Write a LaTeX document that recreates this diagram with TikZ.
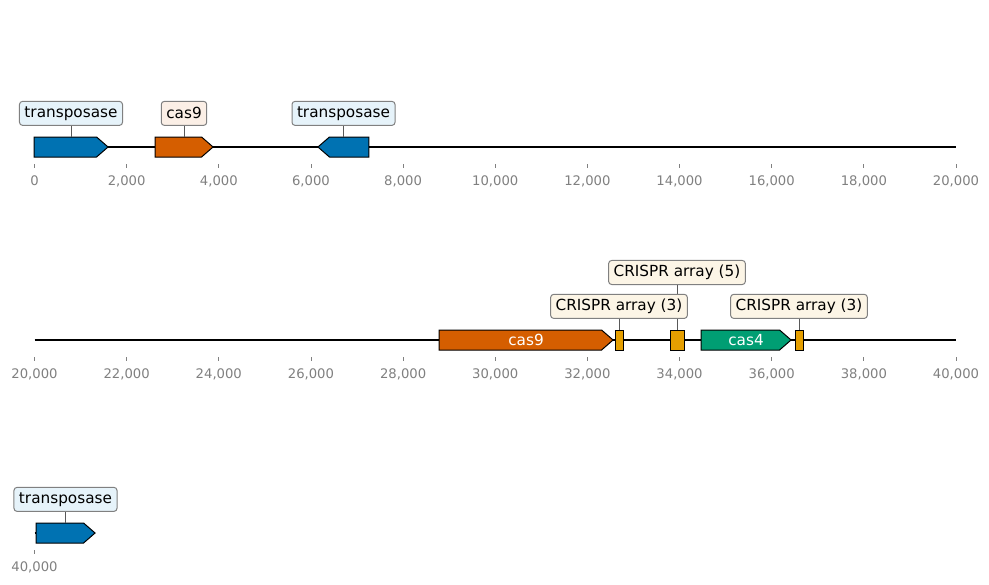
\documentclass[tikz,border=0pt]{standalone}
\usepackage{fontspec}
\setmainfont{DejaVu Sans}
\usetikzlibrary{positioning, shapes.symbols}
\definecolor{geneblue}{HTML}{0072B2}
\definecolor{geneorange}{HTML}{D55E00}
\definecolor{genegreen}{HTML}{009E73}
\definecolor{geneyellow}{HTML}{E69F00}
\definecolor{lblblue}{HTML}{E6F3FA}
\definecolor{lblorange}{HTML}{FBEFE6}
\definecolor{lblyellow}{HTML}{FCF5E6}
\tikzset{
	gene/.style= {
		signal,
		signal pointer angle=82,
		draw=black,
		line width=0.72pt,
		minimum height=14.4pt,
		inner sep=0
	},
	fwd/.style={gene, signal to=east, xshift=-4.1pt},
	rev/.style={gene, signal to=west, xshift=4.1pt},
	crispr/.style= {
		rectangle,
		draw=black,
		fill=geneyellow,
		line width=0.72pt,
		minimum height=14.4pt,
		inner sep=0
	},
	genetext/.style={text=white, inner sep=0, font=\fontsize{11}{13}\selectfont},
	lbl/.style= {
		rectangle,
		rounded corners=2.2pt,
		draw=black!50,
		line width=0.72pt,
		minimum height=17.3pt,
		inner xsep=3.6pt,
		inner ysep=1pt,
		font=\fontsize{11}{13}\selectfont
	},
	leader/.style={draw=black!65, line width=0.6pt},
	backbone/.style={line width=1.1pt},
	tick/.style={draw=black!50, line width=0.6pt},
	ticklbl/.style={font=\fontsize{9.5}{11}\selectfont, text=black!50, anchor=base, inner sep=0},
}
% gene from x1 to x2 (pixel units), top point kept for the label
\newcommand{\gene}[6][]{
	\node(#2)[#1, minimum width={(#4-#3)*0.72pt}] at ({(#3+#4)/2}, #5) {};
	\node(#2txt)[genetext] at ({(#3+#4)/2}, #5) {#6};
	\coordinate(#2top) at ({(#3+#4)/2}, #5-10);
}
\newcommand{\ruler}[3]{
	\foreach \k in {0,...,#3} {
		\edef\bp{\the\numexpr#1+\k*2000\relax}
		\draw[tick] (34.5+\k*92.15, #2+17) -- ++(0,4);
		\node[ticklbl] at (34.5+\k*92.15, #2+38) {\pgfmathprintnumber[fixed, precision=0, 1000 sep={,}, assume math mode=true]{\bp}};
	}
}

\begin{document}
\begin{tikzpicture}[x=0.72pt, y=-0.72pt]
	\useasboundingbox (0,0) rectangle (989,584);
	
	% row 1
	\draw[backbone] (34.5,147) -- (956,147);
	\ruler{0}{147}{10}
	\gene[fwd, fill=geneblue]{tnpA}{34}{108}{147}{}
	\gene[fwd, fill=geneorange]{casA}{155}{213}{147}{}
	\gene[rev, fill=geneblue]{tnpB}{318}{369}{147}{}
	
	\node(tnpAlab)[lbl, fill=lblblue, above=8pt of tnpAtop]{transposase};
	\node(casAlab)[lbl, fill=lblorange, above=8pt of casAtop]{cas9};
	\node(tnpBlab)[lbl, fill=lblblue, above=8pt of tnpBtop]{transposase};
	\draw[leader] (tnpAlab) -- (tnpAtop);
	\draw[leader] (casAlab) -- (casAtop);
	\draw[leader] (tnpBlab) -- (tnpBtop);
	
	% row 2
	\draw[backbone] (34.5,340) -- (956,340);
	\ruler{20000}{340}{10}
	\gene[fwd, fill=geneorange]{casB}{439}{613}{340}{cas9}
	\gene[crispr]{crA}{615}{623}{340}{}
	\gene[crispr]{crB}{670}{684}{340}{}
	\gene[fwd, fill=genegreen]{casC}{701}{791}{340}{cas4}
	\gene[crispr]{crC}{795}{803}{340}{}
	
	\node(crBlab)[lbl, fill=lblyellow, above=32.4pt of crBtop]{CRISPR array (5)};
	\draw[leader] (crBlab) -- (crBtop);
	\node(crAlab)[lbl, fill=lblyellow, above=8pt of crAtop]{CRISPR array (3)};
	\node(crClab)[lbl, fill=lblyellow, above=8pt of crCtop]{CRISPR array (3)};
	\draw[leader] (crAlab) -- (crAtop);
	\draw[leader] (crClab) -- (crCtop);
	
	% row 3
	\draw[backbone] (34.5,533) -- (36,533);
	\ruler{40000}{533}{0}
	\gene[fwd, fill=geneblue]{tnpC}{36}{95}{533}{}
	\node(tnpClab)[lbl, fill=lblblue, above=8pt of tnpCtop]{transposase};
	\draw[leader] (tnpClab) -- (tnpCtop);
\end{tikzpicture}
\end{document}
